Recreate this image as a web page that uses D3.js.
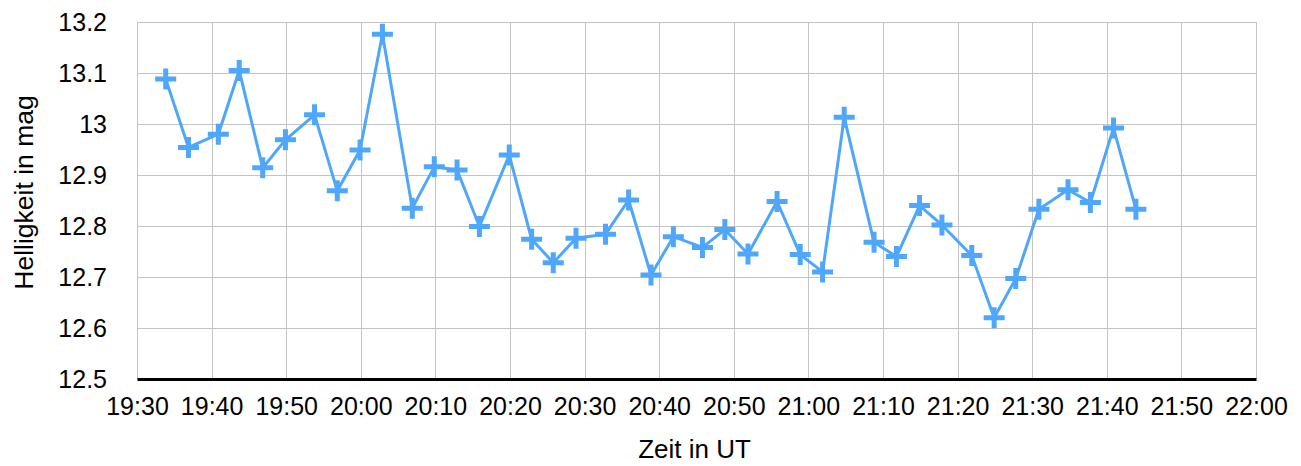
<!DOCTYPE html>
<html>
<head>
<meta charset="utf-8">
<script src="https://cdn.jsdelivr.net/npm/d3@7"></script>
<style>
  body { margin: 0; background: #fff; }
  text { font-family: "Liberation Sans", Arial, Helvetica, sans-serif; fill: #000; }
</style>
</head>
<body>
<svg id="chart"></svg>
<script>
const times = [
  "19:33:51", "19:36:54", "19:40:54", "19:43:42", "19:46:51", "19:49:54",
  "19:53:48", "19:56:51", "19:59:54", "20:02:54", "20:06:54", "20:09:51",
  "20:12:54", "20:15:54", "20:19:54", "20:22:54", "20:25:48", "20:28:51",
  "20:32:48", "20:35:54", "20:38:54", "20:41:54", "20:45:48", "20:48:48",
  "20:51:54", "20:55:48", "20:58:54", "21:01:54", "21:04:48", "21:08:48",
  "21:11:48", "21:14:54", "21:17:54", "21:21:54", "21:24:54", "21:27:48",
  "21:30:54", "21:34:48", "21:37:48", "21:40:54", "21:43:54"
];
const mags = [
  13.088, 12.954, 12.980, 13.105, 12.914, 12.969,
  13.018, 12.869, 12.949, 13.176, 12.835, 12.916,
  12.910, 12.799, 12.939, 12.774, 12.728, 12.776,
  12.784, 12.851, 12.704, 12.779, 12.758, 12.793,
  12.745, 12.848, 12.744, 12.710, 13.013, 12.768,
  12.740, 12.840, 12.802, 12.742, 12.620, 12.697,
  12.833, 12.871, 12.846, 12.992, 12.833
];
const yTicks = [12.5, 12.6, 12.7, 12.8, 12.9, 13, 13.1, 13.2];
const xDomain = ["19:30:00", "22:00:00"];
const xTitle = "Zeit in UT";
const yTitle = "Helligkeit in mag";

const width = 1301, height = 466;
const margin = {top: 22, right: 45, bottom: 87, left: 137};
const lineColor = "#4fa7fb";

const parse = d3.timeParse("%H:%M:%S");
const data = times.map((t, i) => ({t: parse(t), v: mags[i]}));

const svg = d3.select("svg#chart").attr("width", width).attr("height", height);

const x = d3.scaleTime()
  .domain(xDomain.map(parse))
  .range([margin.left, width - margin.right]);
const y = d3.scaleLinear()
  .domain([12.5, 13.2])
  .range([height - margin.bottom, margin.top]);

const xTicks = d3.timeMinute.every(10).range(x.domain()[0], d3.timeMinute.offset(x.domain()[1], 1));

// grid
const grid = svg.append("g").attr("stroke", "#c4c4c4").attr("stroke-width", 1);
grid.selectAll("line.v").data(xTicks).join("line")
  .attr("class", "v")
  .attr("x1", d => Math.round(x(d)) + 0.5).attr("x2", d => Math.round(x(d)) + 0.5)
  .attr("y1", y(13.2)).attr("y2", y(12.5));
grid.selectAll("line.h").data(yTicks.filter(d => d > 12.5)).join("line")
  .attr("class", "h")
  .attr("x1", x.range()[0]).attr("x2", x.range()[1])
  .attr("y1", d => Math.round(y(d)) + 0.5).attr("y2", d => Math.round(y(d)) + 0.5);

// y axis labels
const yAxis = svg.append("g")
  .attr("transform", `translate(${margin.left},0)`)
  .call(d3.axisLeft(y).tickValues(yTicks).tickFormat(d => +d.toFixed(1)).tickSize(0).tickPadding(30));
yAxis.select(".domain").remove();
yAxis.selectAll("text").attr("font-size", 25).attr("font-family", null);

// x axis
const xAxis = svg.append("g")
  .attr("transform", `translate(0,${y(12.5)})`)
  .call(d3.axisBottom(x).tickValues(xTicks).tickFormat(d3.timeFormat("%H:%M")).tickSize(0).tickPadding(18));
xAxis.select(".domain").attr("stroke", "#000").attr("stroke-width", 3);
xAxis.selectAll("text").attr("font-size", 25).attr("font-family", null);

// axis titles
svg.append("text")
  .attr("x", (x.range()[0] + x.range()[1]) / 2 - 2)
  .attr("y", 458)
  .attr("text-anchor", "middle")
  .attr("font-size", 26)
  .text(xTitle);
svg.append("text")
  .attr("transform", `translate(33,${(y.range()[0] + y.range()[1]) / 2 - 8}) rotate(-90)`)
  .attr("text-anchor", "middle")
  .attr("font-size", 26.5)
  .text(yTitle);

// series line
svg.append("path")
  .datum(data)
  .attr("fill", "none")
  .attr("stroke", lineColor)
  .attr("stroke-width", 3)
  .attr("stroke-linejoin", "round")
  .attr("d", d3.line().x(d => x(d.t)).y(d => y(d.v)));

// plus markers
svg.append("g").selectAll("path").data(data).join("path")
  .attr("transform", d => `translate(${x(d.t)},${y(d.v)})`)
  .attr("d", "M-10.5,0H10.5M0,-10.5V10.5")
  .attr("stroke", lineColor)
  .attr("stroke-width", 5)
  .attr("fill", "none");
</script>
</body>
</html>
